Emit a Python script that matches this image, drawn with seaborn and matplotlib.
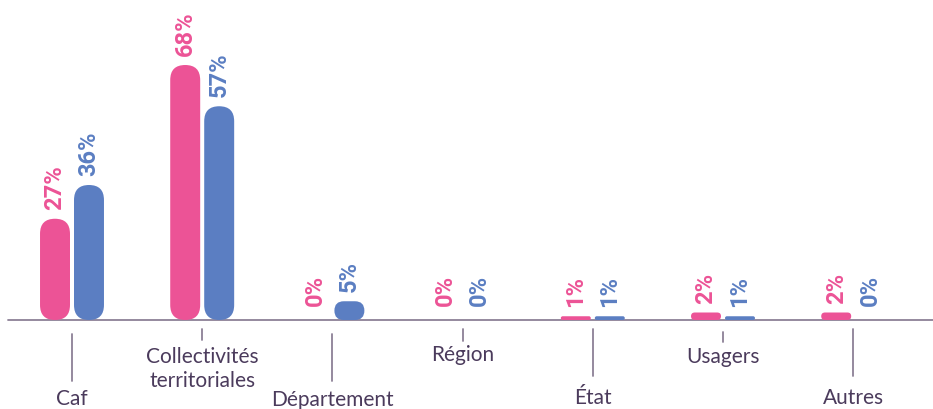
import matplotlib
matplotlib.use('Agg')  # no display
import matplotlib.pyplot as plt
import seaborn as sns
import pandas as pd
from matplotlib.patches import FancyBboxPatch

# Data
categories = ["Caf", "Collectivités\nterritoriales", "Département", "Région",
              "État", "Usagers", "Autres"]
serie_rose = [27, 68, 0, 0, 1, 2, 2]
serie_bleue = [36, 57, 5, 0, 1, 1, 0]
series = ["Série 1", "Série 2"]
colors = ["#EC5396", "#5B7EC2"]

df = pd.DataFrame({
    "categorie": categories * 2,
    "serie": [series[0]] * len(categories) + [series[1]] * len(categories),
    "valeur": serie_rose + serie_bleue,
})

sns.set_theme(style="white")
plt.rcParams['font.family'] = ['Lato', 'DejaVu Sans']

TEXT = "#4B3B5C"
AXIS = "#8C8096"

# Pixel geometry of the figure
W, H = 933, 409
PX_X = 130.2   # px per category
PX_Y = 3.75    # px per percent
X0 = 72        # px of first category centre
Y0 = 320       # baseline, px from top

fig = plt.figure(figsize=(W / 100, H / 100), dpi=100)
ax = fig.add_axes([0, 0, 1, 1])

sns.barplot(data=df, x="categorie", y="valeur", hue="serie", order=categories,
            hue_order=series, palette=colors, saturation=1, width=0.522,
            gap=0.118, errorbar=None, legend=False, ax=ax)

ax.set_xlim(-X0 / PX_X, (W - X0) / PX_X)
ax.set_ylim(-(H - Y0) / PX_Y, Y0 / PX_Y)
ax.set_axis_off()

# Turn the rectangles into pills and label them
aspect = PX_X / PX_Y
for rect in list(ax.patches):
    x, w, h = rect.get_x(), rect.get_width(), rect.get_height()
    col = rect.get_facecolor()
    rect.remove()
    cx = x + w / 2
    if h > 0:
        r_px = min(w * PX_X / 2, h * PX_Y / 2)
        pill = FancyBboxPatch((x, 0), w, h,
                              boxstyle=f"round,pad=0,rounding_size={r_px / PX_X}",
                              mutation_aspect=aspect, facecolor=col,
                              edgecolor="none", linewidth=0, zorder=3)
        ax.add_patch(pill)
        ty = h + 9 / PX_Y
    else:
        ty = 14 / PX_Y
    ax.text(cx, ty, f"{int(round(h))}%", rotation=90, ha="center", va="bottom",
            color=col, fontsize=17, fontweight="bold", zorder=4,
            family=["Roboto", "DejaVu Sans"])

# Baseline
ax.axhline(0, xmin=8 / W, xmax=1, color=AXIS, lw=1.3, zorder=2)

# Staggered category labels: (tick top, tick bottom, label centre) in px from top
label_layout = [(334, 381, 399), (329, 340, 369), (334, 381, 400),
                (329, 341, 355), (329, 376, 398), (332, 342, 357),
                (329, 376, 398)]
for i, (cat, (t0, t1, ly)) in enumerate(zip(categories, label_layout)):
    ax.plot([i, i], [(Y0 - t0) / PX_Y, (Y0 - t1) / PX_Y], color=AXIS, lw=1.3,
            clip_on=False)
    ax.text(i, (Y0 - ly) / PX_Y, cat, ha="center", va="center", color=TEXT,
            fontsize=15, linespacing=1.3)

fig.savefig("out.png", dpi=100)
